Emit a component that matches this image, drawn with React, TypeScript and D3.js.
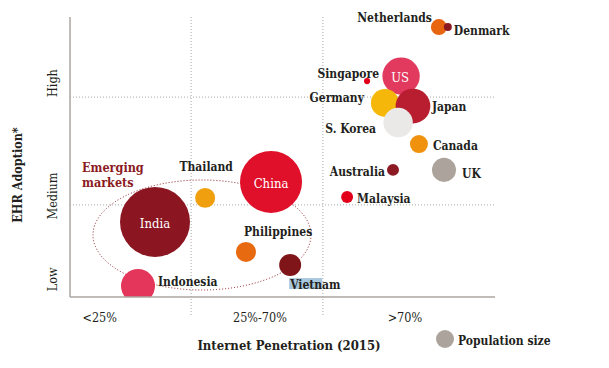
import React from "react";
import * as d3 from "d3";

const countries = ["Netherlands", "Denmark", "Singapore", "US", "Germany", "Japan", "S. Korea", "Canada", "Australia", "UK", "Malaysia", "China", "India", "Thailand", "Philippines", "Vietnam", "Indonesia"];
const internet = [86.8, 88.9, 69.9, 77.9, 74.1, 80.7, 77.2, 82.1, 76.0, 88.0, 65.2, 47.3, 20.0, 31.8, 41.4, 51.8, 16.0];
const ehr = [96.4, 96.4, 77.1, 78.9, 69.3, 68.2, 62.3, 54.6, 45.4, 45.4, 35.7, 41.1, 26.8, 35.4, 16.1, 11.4, 3.9];
const population = [68, 17, 10, 370, 208, 320, 230, 86, 38, 153, 38, 1020, 1300, 106, 106, 128, 307];
const colors = ["#e8650f", "#8b1a22", "#e3001b", "#e23a5e", "#f5b70a", "#b81e30", "#ebe9e8", "#f0920e", "#8b1a22", "#aca49c", "#e3001b", "#e0102a", "#8b1520", "#f0a00e", "#e86a10", "#7f1518", "#e3365a"];
const insideLabel = ["US", "China", "India"];

const xTicks = ["<25%", "25%-70%", ">70%"];
const yTicks = ["Low", "Medium", "High"];
const legendPopulation = 86;

const W = 609, H = 368;
const FONT = "'DejaVu Serif Condensed', 'DejaVu Serif', serif";

export default function App() {
  const x = d3.scaleLinear().domain([0, 100]).range([70, 495]);
  const y = d3.scaleLinear().domain([0, 100]).range([297, 17]);
  const r = d3.scaleSqrt().domain([0, 1300]).range([0, 35]);
  const gridX = [28.5, 59.5];
  const gridY = [32.9, 71.4];
  const bandX = [7, 44.7, 78.8];
  const bandY = [6.3, 36.1, 76.4];

  const data = countries.map((c, i) => ({ c, x: internet[i], y: ehr[i], p: population[i], col: colors[i] }));
  const txt = { fontFamily: FONT, fontWeight: 700, fontSize: 12, fill: "#231f20" } as const;

  const offsets: Record<string, { dx: number; dy: number; a: "start" | "end" | "middle" }> = {
    Netherlands: { dx: -7, dy: -10, a: "end" },
    Denmark: { dx: 6, dy: 3, a: "start" },
    Singapore: { dx: 12, dy: -8, a: "end" },
    Germany: { dx: -21, dy: -5, a: "end" },
    Japan: { dx: 19, dy: 0, a: "start" },
    "S. Korea": { dx: -22, dy: 6, a: "end" },
    Canada: { dx: 14, dy: 1, a: "start" },
    Australia: { dx: -8, dy: 2, a: "end" },
    UK: { dx: 18, dy: 4, a: "start" },
    Malaysia: { dx: 10, dy: 1, a: "start" },
    Thailand: { dx: 1, dy: -31, a: "middle" },
    Philippines: { dx: -2, dy: -20, a: "start" },
    Vietnam: { dx: 0, dy: 19, a: "start" },
    Indonesia: { dx: 20, dy: -5, a: "start" },
  };

  const label = (d: typeof data[number]) => {
    const cx = x(d.x), cy = y(d.y);
    if (insideLabel.includes(d.c)) return <text key={"t" + d.c} x={cx - (d.c === "US" ? 1 : 0)} y={cy + 6} textAnchor="middle" fontFamily={FONT} fill="#fff" fontWeight={400} fontSize={d.c === "US" ? 13 : 13}>{d.c}</text>;
    const m = offsets[d.c];
    return <text key={"t" + d.c} x={cx + m.dx} y={cy + m.dy + 4.5} textAnchor={m.a} {...txt}>{d.c}</text>;
  };

  const vn = data.find(d => d.c === "Vietnam")!;

  return (
    <svg width={W} height={H} style={{ position: "absolute", left: 0, top: 0, background: "#fff" }}>
      <defs>
        <clipPath id="plot"><rect x={70} y={0} width={430} height={297} /></clipPath>
      </defs>
      {gridX.map(g => <line key={"gx" + g} x1={x(g)} x2={x(g)} y1={17} y2={317} stroke="#a8a8a8" strokeWidth={1} strokeDasharray="1,2" />)}
      {gridY.map(g => <line key={"gy" + g} x1={70} x2={495} y1={y(g)} y2={y(g)} stroke="#a8a8a8" strokeWidth={1} strokeDasharray="1,2" />)}
      <ellipse cx={202} cy={235} rx={109} ry={55} fill="none" stroke="#8b1a22" strokeWidth={1} strokeDasharray="1,2" />
      {/* Vietnam highlight */}
      <rect x={x(vn.x) - 1} y={y(vn.y) + 13} width={33} height={11} fill="#a9c8de" />
      <g clipPath="url(#plot)">
        {data.map(d => <circle key={d.c} cx={x(d.x)} cy={y(d.y)} r={r(d.p)} fill={d.col} />)}
      </g>
      <line x1={70} x2={70} y1={17} y2={297} stroke="#aca6a0" strokeWidth={1.5} />
      <line x1={70} x2={495} y1={297} y2={297} stroke="#aca6a0" strokeWidth={1.5} />
      {data.map(label)}
      <text x={82} y={171.5} {...txt} fill="#8b1a22" fontSize={12.5}>Emerging</text>
      <text x={82} y={187} {...txt} fill="#8b1a22" fontSize={12.5}>markets</text>
      {xTicks.map((t, i) => <text key={t} x={x(bandX[i])} y={322} textAnchor="middle" fontFamily={FONT} fontSize={12.5} fill="#231f20">{t}</text>)}
      {yTicks.map((t, i) => <text key={t} transform={`translate(57,${y(bandY[i])}) rotate(-90)`} textAnchor="middle" fontFamily={FONT} fontSize={12.5} fill="#231f20">{t}</text>)}
      <text x={289} y={350} textAnchor="middle" {...txt} fontSize={13}>Internet Penetration (2015)</text>
      <text transform="translate(22,175) rotate(-90)" textAnchor="middle" {...txt} fontSize={12.5}>EHR Adoption*</text>
      <circle cx={445} cy={339} r={r(legendPopulation)} fill="#aca49c" />
      <text x={458} y={345} {...txt}>Population size</text>
    </svg>
  );
}
